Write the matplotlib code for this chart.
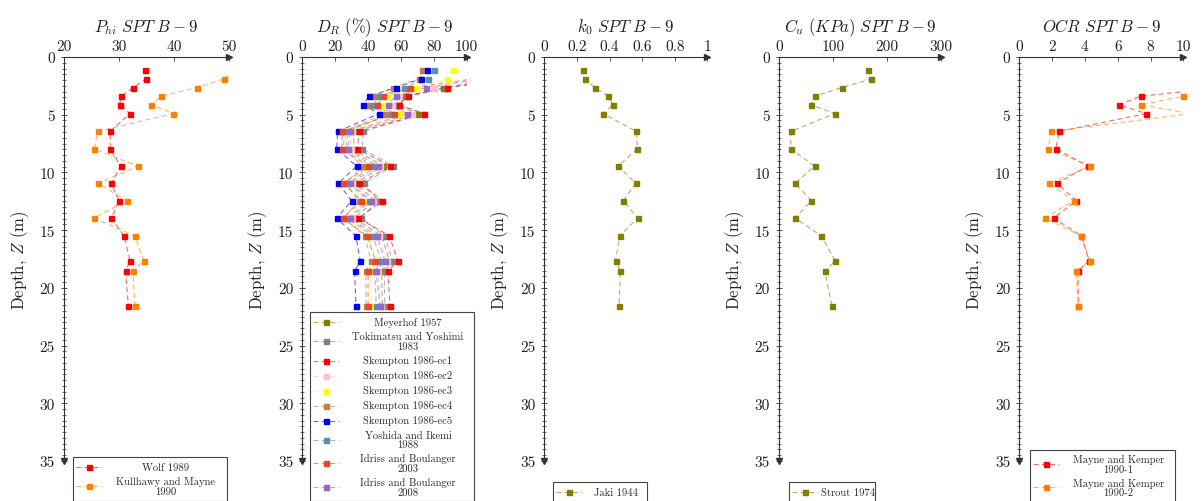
import matplotlib
matplotlib.use("Agg")
import matplotlib.pyplot as plt
from matplotlib.lines import Line2D
from matplotlib.patches import Rectangle
from matplotlib.ticker import MultipleLocator, FixedLocator, FuncFormatter

plt.rcParams['font.family'] = 'serif'
plt.rcParams['font.serif'] = ['cmr10', 'DejaVu Serif']
plt.rcParams['mathtext.fontset'] = 'cm'
plt.rcParams['axes.unicode_minus'] = False
plt.rcParams['axes.formatter.use_mathtext'] = True

# ---------------------------------------------------------------- data
depth = [1.1, 1.9, 2.65, 3.4, 4.15, 4.9, 6.45, 7.95, 9.45, 10.95,
         12.45, 13.95, 15.5, 17.65, 18.55, 21.55]

# friction angle (deg)
phi_wolf = [34.7, 34.9, 32.6, 30.4, 30.1, 32.0, 28.4, 28.4, 30.3, 28.6,
            30.0, 28.6, 30.9, 32.0, 31.2, 31.7]
phi_kulhawy = [51.5, 49.1, 44.1, 37.7, 35.9, 39.9, 26.1, 25.5, 33.4, 26.2,
               31.5, 25.4, 32.9, 34.5, 32.5, 32.9]

# relative density (%)
dr_meyerhof = [125, 118, 85.8, 62.0, 56.8, 70.0, 31.6, 31.0, 49.3, 32.0,
               44.6, 31.5, 48.3, 53.0, 48.3, 48.7]
dr_tokimatsu = [140, 130, 87.0, 63.5, 58.0, 73.5, 37.1, 36.5, 55.0, 37.5,
                46.0, 36.0, 50.0, 55.0, 50.0, 50.0]
dr_skempton1 = [135, 125, 88.0, 64.1, 58.8, 74.0, 34.5, 33.5, 53.3, 34.7,
                48.7, 34.1, 53.0, 58.0, 52.1, 53.3]
dr_skempton2 = [118, 113, 80.3, 59.0, 54.5, 67.0, 30.0, 29.5, 47.5, 30.5,
                43.0, 30.0, 46.5, 51.5, 46.0, 48.0]
dr_skempton3 = [91.5, 88.0, 69.4, 51.7, 47.7, 58.8, 26.5, 26.0, 42.0, 27.0,
                38.0, 26.0, 41.0, 45.0, 41.5, 42.0]
dr_skempton4 = [73.0, 71.0, 55.0, 42.8, 39.8, 50.3, 25.5, 25.0, 37.1, 26.0,
                34.5, 25.0, 38.1, 41.8, 38.7, 38.7]
dr_skempton5 = [75.7, 72.0, 56.8, 40.6, 37.1, 46.7, 21.5, 20.9, 33.0, 21.9,
                30.0, 20.9, 32.5, 35.3, 31.8, 32.7]
dr_yoshida = [80.1, 76.3, 61.7, 46.7, 43.2, 53.8, 27.5, 27.0, 42.5, 28.0,
              40.6, 27.5, 43.0, 48.0, 44.0, 45.0]
dr_idriss2003 = [108, 104, 65.7, 49.3, 45.6, 56.0, 24.3, 24.0, 40.2, 25.0,
                 36.0, 24.5, 39.5, 44.5, 40.0, 40.0]
dr_idriss2008 = [112, 108, 75.0, 56.8, 51.9, 63.9, 29.0, 28.0, 45.8, 29.0,
                 42.0, 29.0, 45.2, 50.3, 44.8, 47.3]

# earth pressure coefficient at rest
k0_jaki = [0.235, 0.249, 0.31, 0.392, 0.42, 0.361, 0.565, 0.571, 0.453, 0.561,
           0.484, 0.573, 0.463, 0.437, 0.467, 0.459]

# undrained shear strength (kPa)
cu_strout = [165, 171, 116, 66, 60, 103, 22, 22, 66, 30,
             60, 30, 78.5, 104.5, 85, 98]

# over-consolidation ratio
ocr_mayne1 = [20.0, 16.0, 12.3, 7.4, 6.06, 7.74, 2.42, 2.24, 4.19, 2.3,
              3.48, 2.09, 3.78, 4.25, 3.58, 3.6]
ocr_mayne2 = [22.0, 18.0, 14.0, 10.0, 7.4, 10.5, 1.95, 1.75, 4.31, 1.83,
              3.33, 1.54, 3.78, 4.3, 3.45, 3.6]

titles = [r'$P_{hi}\ SPT\ B-9$', r'$D_R\ (\%)\ SPT\ B-9$', r'$k_0\ SPT\ B-9$',
          r'$C_u\ (KPa)\ SPT\ B-9$', r'$OCR\ SPT\ B-9$']
x_limits = [(20, 50), (0, 100), (0, 1), (0, 300), (0, 10)]
x_ticks = [[20, 30, 40, 50], [0, 20, 40, 60, 80, 100],
           [0, 0.2, 0.4, 0.6, 0.8, 1], [0, 100, 200, 300],
           [0, 2, 4, 6, 8, 10]]
depth_ticks = [0, 5, 10, 15, 20, 25, 30, 35]

series = [
    [("Wolf 1989", phi_wolf, "#ff0000"),
     ("Kullhawy and Mayne\n1990", phi_kulhawy, "#ff8000")],
    [("Meyerhof 1957", dr_meyerhof, "#808000"),
     ("Tokimatsu and Yoshimi\n1983", dr_tokimatsu, "#808080"),
     ("Skempton 1986-ec1", dr_skempton1, "#ff0000"),
     ("Skempton 1986-ec2", dr_skempton2, "#ffc0cb"),
     ("Skempton 1986-ec3", dr_skempton3, "#ffff00"),
     ("Skempton 1986-ec4", dr_skempton4, "#bf8040"),
     ("Skempton 1986-ec5", dr_skempton5, "#0000ff"),
     ("Yoshida and Ikemi\n1988", dr_yoshida, "#5a8fb0"),
     ("Idriss and Boulanger\n2003", dr_idriss2003, "#e8452c"),
     ("Idriss and Boulanger\n2008", dr_idriss2008, "#9966cc")],
    [("Jaki 1944", k0_jaki, "#808000")],
    [("Strout 1974", cu_strout, "#808000")],
    [("Mayne and Kemper\n1990-1", ocr_mayne1, "#ff0000"),
     ("Mayne and Kemper\n1990-2", ocr_mayne2, "#ff8000")],
]

# ---------------------------------------------------------------- layout (pixels)
W, H = 1204, 502
axes_px = [(64, 229), (302.3, 466.7), (544.3, 707.3), (779, 940.7), (1019.3, 1183.3)]
y_top, y_bot = 58, 462
legend_px = [(73.3, 226.7, 458), (310, 474, 313), (552.7, 646.7, 483),
             (789, 875, 483), (1030, 1175, 450.7)]

AX_COL = '#333333'
DASH = (4.5, 3.0)

fig = plt.figure(figsize=(W / 100, H / 100), dpi=100)
fig.patch.set_facecolor('white')


def fx(px):
    return px / W


def fy(py):
    return 1 - py / H


def draw_legend(entries, left, right, top):
    row_single, row_double, pad = 15.0, 23.5, 2.5
    heights = [row_double if '\n' in lab else row_single for lab, _, _ in entries]
    total = sum(heights) + 2 * pad
    fig.add_artist(Rectangle((fx(left), fy(top + total)), fx(right - left), total / H,
                             transform=fig.transFigure, facecolor='white',
                             edgecolor='#444444', lw=0.8, zorder=5))
    y = top + pad
    h0, h1 = left + 3, left + 29
    for (lab, _, col), h in zip(entries, heights):
        yc = y + h / 2
        fig.add_artist(Line2D([fx(h0), fx(h1)], [fy(yc), fy(yc)], transform=fig.transFigure,
                              color=col, lw=0.8, alpha=0.6, dashes=DASH, zorder=6))
        fig.add_artist(Line2D([fx((h0 + h1) / 2)], [fy(yc)], transform=fig.transFigure,
                              marker='s', ms=3.6, color=col, lw=0, zorder=7))
        fig.text(fx((h1 + 3 + right) / 2), fy(yc), lab, ha='center', va='center',
                 multialignment='center', fontsize=7.6, linespacing=1.0,
                 color='#2a2a2a', zorder=7)
        y += h


for i in range(5):
    x0, x1 = axes_px[i]
    ax = fig.add_axes([fx(x0), fy(y_bot), fx(x1 - x0), (y_bot - y_top) / H])
    marker_clip = Rectangle((-0.02, -0.01), 1.04, 1.02, transform=ax.transAxes)
    for lab, vals, col in series[i]:
        ln, = ax.plot(vals, depth, color=col, lw=0.8, alpha=0.6, dashes=DASH, zorder=2)
        mk, = ax.plot(vals, depth, ls='none', marker='s', ms=3.6, color=col, zorder=3)
        mk.set_clip_path(marker_clip)
    ax.set_xlim(*x_limits[i])
    ax.set_ylim(35, 0)
    ax.xaxis.tick_top()
    ax.xaxis.set_major_locator(FixedLocator(x_ticks[i]))
    ax.xaxis.set_major_formatter(FuncFormatter(lambda v, p: '%g' % v))
    ax.yaxis.set_major_locator(FixedLocator(depth_ticks))
    ax.yaxis.set_minor_locator(MultipleLocator(0.5))
    ax.yaxis.set_major_formatter(FuncFormatter(lambda v, p: '%g' % v))
    for s in ('right', 'bottom'):
        ax.spines[s].set_visible(False)
    for s in ('top', 'left'):
        ax.spines[s].set_color(AX_COL)
        ax.spines[s].set_linewidth(0.8)
    ax.tick_params(axis='x', which='major', direction='in', length=3, width=0.6,
                   colors=AX_COL, labelsize=11, pad=3, labelcolor='#222222')
    ax.tick_params(axis='y', which='major', direction='inout', length=5, width=0.6,
                   colors=AX_COL, labelsize=11, pad=4, labelcolor='#222222')
    ax.tick_params(axis='y', which='minor', direction='inout', length=3, width=0.5,
                   colors=AX_COL)
    ax.plot(1, 1, marker='>', ms=4, color=AX_COL, transform=ax.transAxes, clip_on=False)
    ax.plot(0, 0, marker='v', ms=4, color=AX_COL, transform=ax.transAxes, clip_on=False)
    ax.set_title(titles[i], fontsize=12, pad=6, color='#222222')
    ax.set_ylabel('Depth, $Z$ (m)', fontsize=12, color='#222222', labelpad=6)
    draw_legend(series[i], *legend_px[i])

fig.savefig('out.png', dpi=100, facecolor='white')
